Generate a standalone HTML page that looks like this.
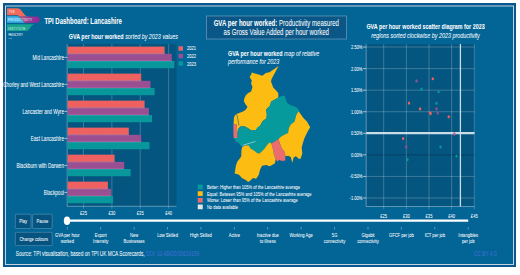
<!DOCTYPE html>
<html><head><meta charset="utf-8"><style>html,body{margin:0;padding:0;background:#fff;width:520px;height:275px;overflow:hidden}</style></head>
<body>
<svg width="520" height="275" viewBox="0 0 520 275" style="display:block;font-family:'Liberation Sans', sans-serif">
<rect x="0" y="0" width="520" height="275" fill="#fff"/>
<rect x="3" y="3" width="513" height="264" fill="#0a5790"/>
<rect x="5" y="5.5" width="509" height="259.5" fill="#c3d3df"/>
<rect x="6" y="6.5" width="507" height="257.5" fill="#036496"/>
<g>
<path d="M7,8.3 H17.6 C19.8,8.3 20.8,9.6 22.4,11.8 C24.2,14.4 25.2,16.4 28.8,16.4 H19.2 C18.5,15.6 18,15.2 17,15.2 H7 Z" fill="#f16a5c"/>
<path d="M7,16.2 H17.4 C18.4,16.2 18.9,16.6 19.5,17.3 L24.7,22.8 H7 Z" fill="#40b2e8"/>
<defs><linearGradient id="lgp" x1="0" y1="0" x2="1" y2="0"><stop offset="0" stop-color="#c05a80"/><stop offset="0.45" stop-color="#9a3a92"/><stop offset="1" stop-color="#842a98"/></linearGradient></defs>
<path d="M19.2,16.4 H37.9 L40.6,19.5 L37.9,22.7 H24.7 Z" fill="url(#lgp)"/>
<path d="M7,24.2 H35.3 C32.8,24.2 31.6,25.6 30.3,27.5 C29.2,29.2 28.3,31 26,31 H7 Z" fill="#19a48f"/>
<text transform="translate(8.90,13.00) scale(0.6604,1)" font-size="3.922" font-weight="bold" font-style="normal" text-anchor="start" fill="#ffd0c8" stroke="#ffd0c8" stroke-width="0.04" letter-spacing="0.5">THE</text>
<text transform="translate(8.10,20.90) scale(0.7547,1)" font-size="3.604" font-weight="normal" font-style="normal" text-anchor="start" fill="#e0f2fc" stroke="#e0f2fc" stroke-width="0.04" letter-spacing="0.45">PRODUCTIVITY</text>
<text transform="translate(8.10,29.50) scale(0.7547,1)" font-size="3.604" font-weight="normal" font-style="normal" text-anchor="start" fill="#c9efe4" stroke="#c9efe4" stroke-width="0.04" letter-spacing="0.5">INSTITUTE</text>
<text transform="translate(8.40,35.60) scale(0.6792,1)" font-size="2.756" font-weight="normal" font-style="normal" text-anchor="start" fill="#fff" stroke="#fff" stroke-width="0.04" letter-spacing="0.05">PRODUCTIVITY</text>
<text transform="translate(8.40,38.70) scale(0.6604,1)" font-size="2.438" font-weight="normal" font-style="normal" text-anchor="start" fill="#c8d8e8" stroke="#c8d8e8" stroke-width="0.04" letter-spacing="0.1">LAB</text>
</g>
<text transform="translate(44.40,23.50) scale(0.7075,1)" font-size="8.480" font-weight="bold" font-style="normal" text-anchor="start" fill="#fff" stroke="#fff" stroke-width="0.04" >TPI Dashboard: Lancashire</text>
<rect x="67.2" y="44" width="109.3" height="162.3" fill="#04557f"/>
<line x1="83.50" y1="44" x2="83.50" y2="208.8" stroke="rgba(255,255,255,0.28)" stroke-width="0.8"/>
<text transform="translate(83.50,215.00) scale(0.6596,1)" font-size="6.254" font-weight="normal" font-style="normal" text-anchor="middle" fill="#fff" stroke="#fff" stroke-width="0.04" >£25</text>
<line x1="111.88" y1="44" x2="111.88" y2="208.8" stroke="rgba(255,255,255,0.28)" stroke-width="0.8"/>
<text transform="translate(111.88,215.00) scale(0.6596,1)" font-size="6.254" font-weight="normal" font-style="normal" text-anchor="middle" fill="#fff" stroke="#fff" stroke-width="0.04" >£30</text>
<line x1="140.25" y1="44" x2="140.25" y2="208.8" stroke="rgba(255,255,255,0.28)" stroke-width="0.8"/>
<text transform="translate(140.25,215.00) scale(0.6596,1)" font-size="6.254" font-weight="normal" font-style="normal" text-anchor="middle" fill="#fff" stroke="#fff" stroke-width="0.04" >£35</text>
<line x1="168.62" y1="44" x2="168.62" y2="208.8" stroke="rgba(255,255,255,0.28)" stroke-width="0.8"/>
<text transform="translate(168.62,215.00) scale(0.6596,1)" font-size="6.254" font-weight="normal" font-style="normal" text-anchor="middle" fill="#fff" stroke="#fff" stroke-width="0.04" >£40</text>
<line x1="67.2" y1="44" x2="67.2" y2="206.3" stroke="rgba(255,255,255,0.45)" stroke-width="0.8"/>
<line x1="67.2" y1="206.3" x2="176.5" y2="206.3" stroke="rgba(255,255,255,0.45)" stroke-width="0.8"/>
<text transform="translate(68.75,38.50) scale(0.7075,1)" font-size="7.632" font-weight="normal" font-style="normal" text-anchor="start" fill="#fff" stroke="#fff" stroke-width="0.04" ><tspan font-weight="bold">GVA per hour worked</tspan> <tspan font-style="italic">sorted by 2023 values</tspan></text>
<rect x="67.60000000000001" y="46.60" width="97.00" height="7.2" fill="#ef6161"/>
<rect x="67.60000000000001" y="53.80" width="104.20" height="7.2" fill="#9a4f93"/>
<line x1="67.60000000000001" y1="53.80" x2="164.60" y2="53.80" stroke="rgba(255,235,240,0.35)" stroke-width="0.6"/>
<rect x="67.60000000000001" y="61.00" width="106.80" height="7.2" fill="#08979a"/>
<line x1="67.60000000000001" y1="61.00" x2="171.80" y2="61.00" stroke="rgba(255,235,240,0.35)" stroke-width="0.6"/>
<line x1="64.5" y1="57.40" x2="67.2" y2="57.40" stroke="#fff" stroke-width="0.6"/>
<text transform="translate(64.00,59.60) scale(0.7075,1)" font-size="6.572" font-weight="normal" font-style="normal" text-anchor="end" fill="#fff" stroke="#fff" stroke-width="0.04" >Mid Lancashire</text>
<rect x="67.60000000000001" y="73.61" width="73.60" height="7.2" fill="#ef6161"/>
<rect x="67.60000000000001" y="80.81" width="82.90" height="7.2" fill="#9a4f93"/>
<line x1="67.60000000000001" y1="80.81" x2="141.20" y2="80.81" stroke="rgba(255,235,240,0.35)" stroke-width="0.6"/>
<rect x="67.60000000000001" y="88.01" width="87.00" height="7.2" fill="#08979a"/>
<line x1="67.60000000000001" y1="88.01" x2="150.50" y2="88.01" stroke="rgba(255,235,240,0.35)" stroke-width="0.6"/>
<line x1="64.5" y1="84.41" x2="67.2" y2="84.41" stroke="#fff" stroke-width="0.6"/>
<text transform="translate(64.00,86.61) scale(0.7075,1)" font-size="6.572" font-weight="normal" font-style="normal" text-anchor="end" fill="#fff" stroke="#fff" stroke-width="0.04" >Chorley and West Lancashire</text>
<rect x="67.60000000000001" y="100.62" width="77.00" height="7.2" fill="#ef6161"/>
<rect x="67.60000000000001" y="107.82" width="81.30" height="7.2" fill="#9a4f93"/>
<line x1="67.60000000000001" y1="107.82" x2="144.60" y2="107.82" stroke="rgba(255,235,240,0.35)" stroke-width="0.6"/>
<rect x="67.60000000000001" y="115.02" width="84.40" height="7.2" fill="#08979a"/>
<line x1="67.60000000000001" y1="115.02" x2="148.90" y2="115.02" stroke="rgba(255,235,240,0.35)" stroke-width="0.6"/>
<line x1="64.5" y1="111.42" x2="67.2" y2="111.42" stroke="#fff" stroke-width="0.6"/>
<text transform="translate(64.00,113.62) scale(0.7075,1)" font-size="6.572" font-weight="normal" font-style="normal" text-anchor="end" fill="#fff" stroke="#fff" stroke-width="0.04" >Lancaster and Wyre</text>
<rect x="67.60000000000001" y="127.63" width="61.20" height="7.2" fill="#ef6161"/>
<rect x="67.60000000000001" y="134.83" width="73.60" height="7.2" fill="#9a4f93"/>
<line x1="67.60000000000001" y1="134.83" x2="128.80" y2="134.83" stroke="rgba(255,235,240,0.35)" stroke-width="0.6"/>
<rect x="67.60000000000001" y="142.03" width="81.90" height="7.2" fill="#08979a"/>
<line x1="67.60000000000001" y1="142.03" x2="141.20" y2="142.03" stroke="rgba(255,235,240,0.35)" stroke-width="0.6"/>
<line x1="64.5" y1="138.43" x2="67.2" y2="138.43" stroke="#fff" stroke-width="0.6"/>
<text transform="translate(64.00,140.63) scale(0.7075,1)" font-size="6.572" font-weight="normal" font-style="normal" text-anchor="end" fill="#fff" stroke="#fff" stroke-width="0.04" >East Lancashire</text>
<rect x="67.60000000000001" y="154.64" width="47.00" height="7.2" fill="#ef6161"/>
<rect x="67.60000000000001" y="161.84" width="56.60" height="7.2" fill="#9a4f93"/>
<line x1="67.60000000000001" y1="161.84" x2="114.60" y2="161.84" stroke="rgba(255,235,240,0.35)" stroke-width="0.6"/>
<rect x="67.60000000000001" y="169.04" width="63.10" height="7.2" fill="#08979a"/>
<line x1="67.60000000000001" y1="169.04" x2="124.20" y2="169.04" stroke="rgba(255,235,240,0.35)" stroke-width="0.6"/>
<line x1="64.5" y1="165.44" x2="67.2" y2="165.44" stroke="#fff" stroke-width="0.6"/>
<text transform="translate(64.00,167.64) scale(0.7075,1)" font-size="6.572" font-weight="normal" font-style="normal" text-anchor="end" fill="#fff" stroke="#fff" stroke-width="0.04" >Blackburn with Darwen</text>
<rect x="67.60000000000001" y="181.65" width="40.30" height="7.2" fill="#ef6161"/>
<rect x="67.60000000000001" y="188.85" width="43.50" height="7.2" fill="#9a4f93"/>
<line x1="67.60000000000001" y1="188.85" x2="107.90" y2="188.85" stroke="rgba(255,235,240,0.35)" stroke-width="0.6"/>
<rect x="67.60000000000001" y="196.05" width="45.50" height="7.2" fill="#08979a"/>
<line x1="67.60000000000001" y1="196.05" x2="111.10" y2="196.05" stroke="rgba(255,235,240,0.35)" stroke-width="0.6"/>
<line x1="64.5" y1="192.45" x2="67.2" y2="192.45" stroke="#fff" stroke-width="0.6"/>
<text transform="translate(64.00,194.65) scale(0.7075,1)" font-size="6.572" font-weight="normal" font-style="normal" text-anchor="end" fill="#fff" stroke="#fff" stroke-width="0.04" >Blackpool</text>
<rect x="178.5" y="46.30" width="4.5" height="4.4" fill="#ef6161"/>
<text transform="translate(187.00,50.40) scale(0.7075,1)" font-size="5.830" font-weight="normal" font-style="normal" text-anchor="start" fill="#fff" stroke="#fff" stroke-width="0.04" >2021</text>
<rect x="178.5" y="53.85" width="4.5" height="4.4" fill="#9a4f93"/>
<text transform="translate(187.00,57.95) scale(0.7075,1)" font-size="5.830" font-weight="normal" font-style="normal" text-anchor="start" fill="#fff" stroke="#fff" stroke-width="0.04" >2022</text>
<rect x="178.5" y="61.40" width="4.5" height="4.4" fill="#08979a"/>
<text transform="translate(187.00,65.50) scale(0.7075,1)" font-size="5.830" font-weight="normal" font-style="normal" text-anchor="start" fill="#fff" stroke="#fff" stroke-width="0.04" >2023</text>
<rect x="206.5" y="16" width="140" height="23" fill="#0a5686" stroke="rgba(255,255,255,0.35)" stroke-width="0.8"/>
<text transform="translate(276.30,25.90) scale(0.7075,1)" font-size="8.586" font-weight="normal" font-style="normal" text-anchor="middle" fill="#fff" stroke="#fff" stroke-width="0.04" ><tspan font-weight="bold">GVA per hour worked:</tspan> Productivity measured</text>
<text transform="translate(276.30,35.20) scale(0.7075,1)" font-size="8.586" font-weight="normal" font-style="normal" text-anchor="middle" fill="#fff" stroke="#fff" stroke-width="0.04" >as Gross Value Added per hour worked</text>
<text transform="translate(228.00,55.50) scale(0.7075,1)" font-size="7.590" font-weight="normal" font-style="normal" text-anchor="start" fill="#fff" stroke="#fff" stroke-width="0.04" ><tspan font-weight="bold">GVA per hour worked</tspan> <tspan font-style="italic">map of relative</tspan></text>
<text transform="translate(228.00,64.00) scale(0.7075,1)" font-size="7.590" font-weight="normal" font-style="normal" text-anchor="start" fill="#fff" stroke="#fff" stroke-width="0.04" ><tspan font-style="italic">performance for 2023</tspan></text>
<polygon points="278.6,66.1 269.5,72.2 265.9,72.9 262.3,75.8 258.6,74.4 254,73.3 251.8,72.5 251.1,74.7 249.6,76.9 251.8,80.5 251.1,83.5 252.5,87.1 251.1,91.5 248.2,92.9 246,95.1 244.5,98 243.8,100.9 245.3,104.1 247.5,106.7 246.1,109.3 244,111.1 240.5,112.4 237,113.7 234.8,115.5 233.9,118 233.6,124.4 236.8,124.4 237.3,134 238.2,128.8 240.8,126.2 244.3,126.2 247.8,127.9 251.5,130.6 255.9,129.9 257.4,127.7 260.3,125.5 262.5,121.2 266.5,118.3 266.8,113.9 266.1,109.5 269.7,105.9 271.2,101.5 275,99.4 278.3,97.6 278.3,93.3 276.1,90.4 273.2,87.5 271,81.6 271.7,78.7" fill="#fcbc12"/>
<polygon points="233.6,138 237.5,138 237.3,134 238.2,128.8 240.8,126.2 244.3,126.2 247.8,127.9 251.5,130.6 255.9,129.9 257.4,127.7 260.3,125.5 262.5,121.2 266.5,118.3 266.8,113.9 266.1,109.5 269.7,105.9 271.2,101.5 275,99.4 278.3,97.6 280.5,96.5 284.6,95.6 287.1,103 291.2,105.5 296.1,107.1 299.4,110.4 297.7,112.8 296.3,115 294.6,121.5 290.5,124.8 288.9,128.1 288.1,133 284.8,134.6 281.5,136.3 278.5,138.9 271.5,143.6 269.4,142.5 267.1,144.9 264.2,148.9 262.4,150.7 259.5,153.6 257.2,153 254.3,150.7 250.2,148.3 249,145.4 245,145.4 242.1,147.2 239.1,143.6 235.6,141" fill="#079a9c"/>
<polygon points="233.3,124.4 236.8,124.4 237.5,138 233.6,138" fill="#ec6b6e"/>
<polygon points="298.6,111.2 303.6,118.3 306.9,121.5 310.2,127.3 307.7,131.4 304.5,137.9 302.9,143 301.7,147.6 302.3,153.4 300.6,158.7 298.8,158.7 295.9,156.3 293.6,157.5 292.4,162.7 290.7,156.9 288.3,155.8 285.4,156.3 284.9,152.3 282,148.8 279.6,143 278.5,138.9 281.5,136.3 284.8,134.6 288.1,133 288.9,128.1 290.5,124.8 294.6,121.5 296.3,115 297.7,112.8" fill="#fcbc12"/>
<polygon points="271.5,143.6 278.5,138.9 279.6,143 282,148.8 284.9,152.3 285.4,160.4 281.4,161 279.6,159.8 277.3,161.6 275.6,159.3 273.8,154.6 273.2,150 272.1,147" fill="#ec6b6e"/>
<polygon points="242.1,147.2 245,145.4 249,145.4 250.2,148.3 254.3,150.7 257.2,153 259.5,153.6 262.4,150.7 264.2,148.9 267.1,144.9 269.4,142.5 271.5,143.6 272.1,147 273.2,150 273.8,154.6 275.6,159.3 275,163.3 272,165 269.9,166.3 266,165 262.1,165.7 260.1,169.6 258.8,174.8 256.2,178.8 252.9,178.1 251,180.1 248.3,182 245.7,180.1 241.8,178.1 239.8,175.5 237.9,174.2 234.6,173.5 235.3,169.6 235.9,165.7 237.2,161.8 239.2,159.2 241.2,156.5 241.5,150" fill="#fcbc12"/>
<line x1="236.9" y1="114.3" x2="239" y2="125.5" stroke="#036496" stroke-width="0.6"/>
<line x1="242.7" y1="145.4" x2="255.4" y2="141.4" stroke="#cfe3ee" stroke-width="0.6"/>
<rect x="197.75" y="184.60" width="5" height="4.7" fill="#079a9c"/>
<text transform="translate(206.90,188.90) scale(0.7075,1)" font-size="5.724" font-weight="normal" font-style="normal" text-anchor="start" fill="#fff" stroke="#fff" stroke-width="0.04" >Better: Higher than 105% of the Lancashire average</text>
<rect x="197.75" y="191.25" width="5" height="4.7" fill="#fcbc12"/>
<text transform="translate(206.90,195.55) scale(0.7075,1)" font-size="5.724" font-weight="normal" font-style="normal" text-anchor="start" fill="#fff" stroke="#fff" stroke-width="0.04" >Equal: Between 95% and 105% of the Lancashire average</text>
<rect x="197.75" y="197.90" width="5" height="4.7" fill="#ec6b6e"/>
<text transform="translate(206.90,202.20) scale(0.7075,1)" font-size="5.724" font-weight="normal" font-style="normal" text-anchor="start" fill="#fff" stroke="#fff" stroke-width="0.04" >Worse: Lower than 95% of the Lancashire average</text>
<rect x="197.75" y="204.55" width="5" height="4.7" fill="#e6e6e6"/>
<text transform="translate(206.90,208.85) scale(0.7075,1)" font-size="5.724" font-weight="normal" font-style="normal" text-anchor="start" fill="#fff" stroke="#fff" stroke-width="0.04" >No data available</text>
<text transform="translate(425.50,29.20) scale(0.7075,1)" font-size="7.600" font-weight="bold" font-style="normal" text-anchor="middle" fill="#fff" stroke="#fff" stroke-width="0.04" >GVA per hour worked scatter diagram for 2023</text>
<text transform="translate(425.50,37.60) scale(0.7075,1)" font-size="7.674" font-weight="normal" font-style="italic" text-anchor="middle" fill="#fff" stroke="#fff" stroke-width="0.04" >regions sorted clockwise by 2023 productivity</text>
<rect x="366.2" y="44" width="108.30" height="162.5" fill="#04557f"/>
<line x1="366.2" y1="47.04" x2="474.5" y2="47.04" stroke="rgba(255,255,255,0.28)" stroke-width="0.8"/>
<line x1="366.2" y1="68.61" x2="474.5" y2="68.61" stroke="rgba(255,255,255,0.28)" stroke-width="0.8"/>
<line x1="366.2" y1="90.17" x2="474.5" y2="90.17" stroke="rgba(255,255,255,0.28)" stroke-width="0.8"/>
<line x1="366.2" y1="111.74" x2="474.5" y2="111.74" stroke="rgba(255,255,255,0.28)" stroke-width="0.8"/>
<line x1="366.2" y1="176.43" x2="474.5" y2="176.43" stroke="rgba(255,255,255,0.28)" stroke-width="0.8"/>
<line x1="366.2" y1="198.00" x2="474.5" y2="198.00" stroke="rgba(255,255,255,0.28)" stroke-width="0.8"/>
<line x1="363" y1="47.04" x2="366.2" y2="47.04" stroke="#fff" stroke-width="0.6"/>
<text transform="translate(362.50,48.94) scale(0.7075,1)" font-size="5.777" font-weight="normal" font-style="normal" text-anchor="end" fill="#fff" stroke="#fff" stroke-width="0.04" >2.50%</text>
<line x1="363" y1="68.61" x2="366.2" y2="68.61" stroke="#fff" stroke-width="0.6"/>
<text transform="translate(362.50,70.51) scale(0.7075,1)" font-size="5.777" font-weight="normal" font-style="normal" text-anchor="end" fill="#fff" stroke="#fff" stroke-width="0.04" >2.00%</text>
<line x1="363" y1="90.17" x2="366.2" y2="90.17" stroke="#fff" stroke-width="0.6"/>
<text transform="translate(362.50,92.07) scale(0.7075,1)" font-size="5.777" font-weight="normal" font-style="normal" text-anchor="end" fill="#fff" stroke="#fff" stroke-width="0.04" >1.50%</text>
<line x1="363" y1="111.74" x2="366.2" y2="111.74" stroke="#fff" stroke-width="0.6"/>
<text transform="translate(362.50,113.64) scale(0.7075,1)" font-size="5.777" font-weight="normal" font-style="normal" text-anchor="end" fill="#fff" stroke="#fff" stroke-width="0.04" >1.00%</text>
<line x1="363" y1="133.30" x2="366.2" y2="133.30" stroke="#fff" stroke-width="0.6"/>
<text transform="translate(362.50,135.20) scale(0.7075,1)" font-size="5.777" font-weight="normal" font-style="normal" text-anchor="end" fill="#fff" stroke="#fff" stroke-width="0.04" >0.50%</text>
<line x1="363" y1="154.87" x2="366.2" y2="154.87" stroke="#fff" stroke-width="0.6"/>
<text transform="translate(362.50,156.77) scale(0.7075,1)" font-size="5.777" font-weight="normal" font-style="normal" text-anchor="end" fill="#fff" stroke="#fff" stroke-width="0.04" >0.00%</text>
<line x1="363" y1="176.43" x2="366.2" y2="176.43" stroke="#fff" stroke-width="0.6"/>
<text transform="translate(362.50,178.33) scale(0.7075,1)" font-size="5.777" font-weight="normal" font-style="normal" text-anchor="end" fill="#fff" stroke="#fff" stroke-width="0.04" >-0.50%</text>
<line x1="363" y1="198.00" x2="366.2" y2="198.00" stroke="#fff" stroke-width="0.6"/>
<text transform="translate(362.50,199.90) scale(0.7075,1)" font-size="5.777" font-weight="normal" font-style="normal" text-anchor="end" fill="#fff" stroke="#fff" stroke-width="0.04" >-1.00%</text>
<line x1="366.2" y1="154.87" x2="474.5" y2="154.87" stroke="rgba(0,30,60,0.45)" stroke-width="0.8"/>
<line x1="383.70" y1="44" x2="383.70" y2="209.3" stroke="rgba(255,255,255,0.28)" stroke-width="0.8"/>
<text transform="translate(383.70,217.60) scale(0.6596,1)" font-size="6.254" font-weight="normal" font-style="normal" text-anchor="middle" fill="#fff" stroke="#fff" stroke-width="0.04" >£25</text>
<line x1="406.35" y1="44" x2="406.35" y2="209.3" stroke="rgba(255,255,255,0.28)" stroke-width="0.8"/>
<text transform="translate(406.35,217.60) scale(0.6596,1)" font-size="6.254" font-weight="normal" font-style="normal" text-anchor="middle" fill="#fff" stroke="#fff" stroke-width="0.04" >£30</text>
<line x1="429.00" y1="44" x2="429.00" y2="209.3" stroke="rgba(255,255,255,0.28)" stroke-width="0.8"/>
<text transform="translate(429.00,217.60) scale(0.6596,1)" font-size="6.254" font-weight="normal" font-style="normal" text-anchor="middle" fill="#fff" stroke="#fff" stroke-width="0.04" >£35</text>
<line x1="451.65" y1="44" x2="451.65" y2="209.3" stroke="rgba(255,255,255,0.28)" stroke-width="0.8"/>
<text transform="translate(451.65,217.60) scale(0.6596,1)" font-size="6.254" font-weight="normal" font-style="normal" text-anchor="middle" fill="#fff" stroke="#fff" stroke-width="0.04" >£40</text>
<line x1="474.30" y1="44" x2="474.30" y2="209.3" stroke="rgba(255,255,255,0.28)" stroke-width="0.8"/>
<text transform="translate(474.30,217.60) scale(0.6596,1)" font-size="6.254" font-weight="normal" font-style="normal" text-anchor="middle" fill="#fff" stroke="#fff" stroke-width="0.04" >£45</text>
<line x1="366.2" y1="44" x2="366.2" y2="206.5" stroke="rgba(255,255,255,0.45)" stroke-width="0.8"/>
<line x1="366.2" y1="206.5" x2="474.5" y2="206.5" stroke="rgba(255,255,255,0.45)" stroke-width="0.8"/>
<line x1="366.2" y1="133.1" x2="474.5" y2="133.1" stroke="#c9dde8" stroke-width="2.2"/>
<line x1="460.4" y1="44" x2="460.4" y2="206.5" stroke="#c9dde8" stroke-width="1.3"/>
<ellipse cx="416.5" cy="80.9" rx="1.2" ry="1.55" fill="#9a4f93"/>
<ellipse cx="432.8" cy="78.7" rx="1.2" ry="1.55" fill="#ef6161"/>
<ellipse cx="421.4" cy="89.1" rx="1.2" ry="1.55" fill="#08979a"/>
<ellipse cx="438.6" cy="91.8" rx="1.2" ry="1.55" fill="#08979a"/>
<ellipse cx="409" cy="103.1" rx="1.2" ry="1.55" fill="#ef6161"/>
<ellipse cx="436.5" cy="103.2" rx="1.2" ry="1.55" fill="#08979a"/>
<ellipse cx="420.1" cy="108.9" rx="1.2" ry="1.55" fill="#ef6161"/>
<ellipse cx="436.5" cy="108.9" rx="1.2" ry="1.55" fill="#9a4f93"/>
<ellipse cx="430.1" cy="112.7" rx="1.2" ry="1.55" fill="#ef6161"/>
<ellipse cx="437.7" cy="113.1" rx="1.2" ry="1.55" fill="#9a4f93"/>
<ellipse cx="403.2" cy="138.5" rx="1.2" ry="1.55" fill="#ef6161"/>
<ellipse cx="406.3" cy="146.9" rx="1.2" ry="1.55" fill="#9a4f93"/>
<ellipse cx="440.5" cy="146.9" rx="1.2" ry="1.55" fill="#08979a"/>
<ellipse cx="407.4" cy="159.6" rx="1.2" ry="1.55" fill="#08979a"/>
<ellipse cx="456.5" cy="156" rx="1.2" ry="1.55" fill="#08979a"/>
<ellipse cx="454.4" cy="133.9" rx="1.2" ry="1.55" fill="#d0509a"/>
<ellipse cx="448.7" cy="116.8" rx="1.2" ry="1.55" fill="#ef6161"/>
<ellipse cx="430.6" cy="113.6" rx="1.2" ry="1.55" fill="#ef6161"/>
<line x1="67.3" y1="220.7" x2="468.2" y2="220.7" stroke="#fff" stroke-width="2.2"/>
<ellipse cx="67.0" cy="220.8" rx="3.2" ry="4.25" fill="#fff"/>
<line x1="67.30" y1="227" x2="67.30" y2="229.5" stroke="rgba(255,255,255,0.6)" stroke-width="0.6"/>
<text transform="translate(67.30,236.60) scale(0.6652,1)" font-size="6.201" font-weight="normal" font-style="normal" text-anchor="middle" fill="#fff" stroke="#fff" stroke-width="0.04" >GVA per hour</text>
<text transform="translate(67.30,242.90) scale(0.6652,1)" font-size="6.201" font-weight="normal" font-style="normal" text-anchor="middle" fill="#fff" stroke="#fff" stroke-width="0.04" >worked</text>
<line x1="100.71" y1="227" x2="100.71" y2="229.5" stroke="rgba(255,255,255,0.6)" stroke-width="0.6"/>
<text transform="translate(100.71,236.60) scale(0.6652,1)" font-size="6.201" font-weight="normal" font-style="normal" text-anchor="middle" fill="#fff" stroke="#fff" stroke-width="0.04" >Export</text>
<text transform="translate(100.71,242.90) scale(0.6652,1)" font-size="6.201" font-weight="normal" font-style="normal" text-anchor="middle" fill="#fff" stroke="#fff" stroke-width="0.04" >Intensity</text>
<line x1="134.12" y1="227" x2="134.12" y2="229.5" stroke="rgba(255,255,255,0.6)" stroke-width="0.6"/>
<text transform="translate(134.12,236.60) scale(0.6652,1)" font-size="6.201" font-weight="normal" font-style="normal" text-anchor="middle" fill="#fff" stroke="#fff" stroke-width="0.04" >New</text>
<text transform="translate(134.12,242.90) scale(0.6652,1)" font-size="6.201" font-weight="normal" font-style="normal" text-anchor="middle" fill="#fff" stroke="#fff" stroke-width="0.04" >Businesses</text>
<line x1="167.53" y1="227" x2="167.53" y2="229.5" stroke="rgba(255,255,255,0.6)" stroke-width="0.6"/>
<text transform="translate(167.53,236.60) scale(0.6652,1)" font-size="6.201" font-weight="normal" font-style="normal" text-anchor="middle" fill="#fff" stroke="#fff" stroke-width="0.04" >Low Skilled</text>
<line x1="200.94" y1="227" x2="200.94" y2="229.5" stroke="rgba(255,255,255,0.6)" stroke-width="0.6"/>
<text transform="translate(200.94,236.60) scale(0.6652,1)" font-size="6.201" font-weight="normal" font-style="normal" text-anchor="middle" fill="#fff" stroke="#fff" stroke-width="0.04" >High Skilled</text>
<line x1="234.35" y1="227" x2="234.35" y2="229.5" stroke="rgba(255,255,255,0.6)" stroke-width="0.6"/>
<text transform="translate(234.35,236.60) scale(0.6652,1)" font-size="6.201" font-weight="normal" font-style="normal" text-anchor="middle" fill="#fff" stroke="#fff" stroke-width="0.04" >Active</text>
<line x1="267.76" y1="227" x2="267.76" y2="229.5" stroke="rgba(255,255,255,0.6)" stroke-width="0.6"/>
<text transform="translate(267.76,236.60) scale(0.6652,1)" font-size="6.201" font-weight="normal" font-style="normal" text-anchor="middle" fill="#fff" stroke="#fff" stroke-width="0.04" >Inactive due</text>
<text transform="translate(267.76,242.90) scale(0.6652,1)" font-size="6.201" font-weight="normal" font-style="normal" text-anchor="middle" fill="#fff" stroke="#fff" stroke-width="0.04" >to illness</text>
<line x1="301.17" y1="227" x2="301.17" y2="229.5" stroke="rgba(255,255,255,0.6)" stroke-width="0.6"/>
<text transform="translate(301.17,236.60) scale(0.6652,1)" font-size="6.201" font-weight="normal" font-style="normal" text-anchor="middle" fill="#fff" stroke="#fff" stroke-width="0.04" >Working Age</text>
<line x1="334.58" y1="227" x2="334.58" y2="229.5" stroke="rgba(255,255,255,0.6)" stroke-width="0.6"/>
<text transform="translate(334.58,236.60) scale(0.6652,1)" font-size="6.201" font-weight="normal" font-style="normal" text-anchor="middle" fill="#fff" stroke="#fff" stroke-width="0.04" >5G</text>
<text transform="translate(334.58,242.90) scale(0.6652,1)" font-size="6.201" font-weight="normal" font-style="normal" text-anchor="middle" fill="#fff" stroke="#fff" stroke-width="0.04" >connectivity</text>
<line x1="367.99" y1="227" x2="367.99" y2="229.5" stroke="rgba(255,255,255,0.6)" stroke-width="0.6"/>
<text transform="translate(367.99,236.60) scale(0.6652,1)" font-size="6.201" font-weight="normal" font-style="normal" text-anchor="middle" fill="#fff" stroke="#fff" stroke-width="0.04" >Gigabit</text>
<text transform="translate(367.99,242.90) scale(0.6652,1)" font-size="6.201" font-weight="normal" font-style="normal" text-anchor="middle" fill="#fff" stroke="#fff" stroke-width="0.04" >connectivity</text>
<line x1="401.40" y1="227" x2="401.40" y2="229.5" stroke="rgba(255,255,255,0.6)" stroke-width="0.6"/>
<text transform="translate(401.40,236.60) scale(0.6652,1)" font-size="6.201" font-weight="normal" font-style="normal" text-anchor="middle" fill="#fff" stroke="#fff" stroke-width="0.04" >GFCF per job</text>
<line x1="434.81" y1="227" x2="434.81" y2="229.5" stroke="rgba(255,255,255,0.6)" stroke-width="0.6"/>
<text transform="translate(434.81,236.60) scale(0.6652,1)" font-size="6.201" font-weight="normal" font-style="normal" text-anchor="middle" fill="#fff" stroke="#fff" stroke-width="0.04" >ICT per job</text>
<line x1="468.22" y1="227" x2="468.22" y2="229.5" stroke="rgba(255,255,255,0.6)" stroke-width="0.6"/>
<text transform="translate(468.22,236.60) scale(0.6652,1)" font-size="6.201" font-weight="normal" font-style="normal" text-anchor="middle" fill="#fff" stroke="#fff" stroke-width="0.04" >Intangibles</text>
<text transform="translate(468.22,242.90) scale(0.6652,1)" font-size="6.201" font-weight="normal" font-style="normal" text-anchor="middle" fill="#fff" stroke="#fff" stroke-width="0.04" >per job</text>
<rect x="15.3" y="214.2" width="15.70" height="14.30" rx="1" fill="#06537f" stroke="rgba(220,235,245,0.42)" stroke-width="0.6"/>
<text transform="translate(23.15,223.25) scale(0.7075,1)" font-size="5.798" font-weight="normal" font-style="normal" text-anchor="middle" fill="#fff" stroke="#fff" stroke-width="0.04" >Play</text>
<rect x="32.6" y="214.2" width="19.60" height="14.30" rx="1" fill="#06537f" stroke="rgba(220,235,245,0.42)" stroke-width="0.6"/>
<text transform="translate(42.40,223.25) scale(0.7075,1)" font-size="5.798" font-weight="normal" font-style="normal" text-anchor="middle" fill="#fff" stroke="#fff" stroke-width="0.04" >Pause</text>
<rect x="15.3" y="232.3" width="36.90" height="13.30" rx="1" fill="#06537f" stroke="rgba(220,235,245,0.42)" stroke-width="0.6"/>
<text transform="translate(33.75,240.85) scale(0.7075,1)" font-size="5.798" font-weight="normal" font-style="normal" text-anchor="middle" fill="#fff" stroke="#fff" stroke-width="0.04" >Change colours</text>
<text transform="translate(15.80,256.30) scale(0.7075,1)" font-size="6.710" font-weight="normal" font-style="normal" text-anchor="start" fill="#fff" stroke="#fff" stroke-width="0.04" >Source: TPI visualisation, based on TPI UK MCA Scorecards, <tspan fill="#4470d8" stroke="none">DOI: 10.48420/30619199</tspan></text>
<text transform="translate(473.70,256.20) scale(0.7075,1)" font-size="6.890" font-weight="normal" font-style="normal" text-anchor="start" fill="#4470d8" >CC BY 4.0</text>
</svg>
</body></html>
